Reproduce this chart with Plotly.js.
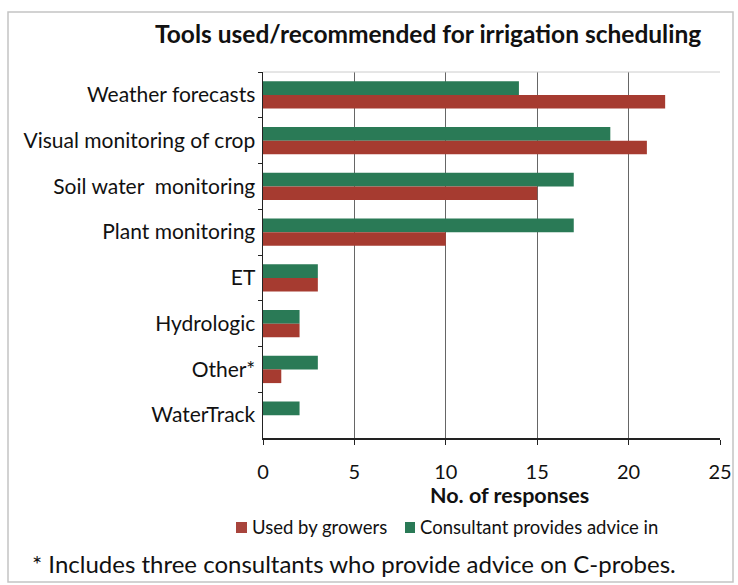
<!DOCTYPE html>
<html><head><meta charset="utf-8">
<script src="https://cdn.plot.ly/plotly-3.0.1.min.js"></script>
<style>body{margin:0;background:#fff}#c{width:738px;height:585px}</style>
</head><body><div id="c"></div>
<script>
const categories = ["Weather forecasts","Visual monitoring of crop","Soil water  monitoring","Plant monitoring","ET","Hydrologic","Other*","WaterTrack"];
const usedByGrowers = [22,21,15,10,3,2,1,0];
const consultantAdvice = [14,19,17,17,3,2,3,2];
const xTicks = [0,5,10,15,20,25];
const seriesNames = ["Used by growers","Consultant provides advice in"];
const seriesColors = ["#a63b30","#2a7a56"];

const F = "Lato, 'Open Sans', sans-serif";
const L = 263, R = 18, T = 72, B = 147, W = 738, H = 585;
const pw = W - L - R, ph = H - T - B;
const px = x => (x - L) / pw;          // pixel x -> paper
const py = y => (H - B - y) / ph;      // pixel y -> paper

const traces = [
  {type:'bar', orientation:'h', name:seriesNames[1], y:categories, x:consultantAdvice,
   marker:{color:seriesColors[1]}},
  {type:'bar', orientation:'h', name:seriesNames[0], y:categories, x:usedByGrowers,
   marker:{color:seriesColors[0]}}
];

// custom legend (squares right next to text, like the reference)
const legItems = [
  {sq:[236,247], tx:250, name:seriesNames[0], color:'#a8443c'},
  {sq:[405,415], tx:418, name:seriesNames[1], color:'#2a7a56'}
];
const legY = 527;
const shapes = [
  {type:'line', xref:'paper', yref:'paper', x0:0, x1:1, y0:1, y1:1, line:{color:'#ccc', width:1}},
  {type:'rect', xref:'paper', yref:'paper', x0:px(8), x1:px(733), y0:py(582), y1:py(12), line:{color:'#c4c4c4', width:1.5}, layer:'below'}
];
const annotations = [
  {text:'<b>Tools used/recommended for irrigation scheduling</b>', xref:'paper', yref:'paper',
   x:px(428), y:py(33), xanchor:'center', yanchor:'middle', showarrow:false, font:{family:F, size:24.5, color:'#111'}},
  {text:'<b>No. of responses</b>', xref:'paper', yref:'paper', x:px(509), y:py(495), xanchor:'center', yanchor:'middle',
   showarrow:false, font:{family:F, size:21.5, color:'#111'}},
  {text:'* Includes three consultants who provide advice on C-probes.', xref:'paper', yref:'paper', x:px(30), y:py(563),
   xanchor:'left', yanchor:'middle', showarrow:false, font:{family:F, size:24, color:'#111'}}
];
legItems.forEach(it => {
  shapes.push({type:'rect', xref:'paper', yref:'paper', x0:px(it.sq[0]), x1:px(it.sq[1]), y0:py(legY+6), y1:py(legY-5),
    fillcolor:it.color, line:{width:0}});
  annotations.push({text:it.name, xref:'paper', yref:'paper', x:px(it.tx), y:py(legY), xanchor:'left', yanchor:'middle',
    showarrow:false, font:{family:F, size:18.5, color:'#111'}});
});

const layout = {
  width:W, height:H, paper_bgcolor:'#fff', plot_bgcolor:'#fff',
  margin:{l:L, r:R, t:T, b:B},
  barmode:'group', bargap:0.4, bargroupgap:0,
  showlegend:false,
  xaxis:{range:[0,25], tickvals:xTicks, ticks:'outside', ticklen:5, tickcolor:'#222',
    showline:true, linecolor:'#222', linewidth:1.5, showgrid:true, gridcolor:'#666', gridwidth:1,
    zeroline:false, ticklabelstandoff:10, tickfont:{family:F, size:20, color:'#111'}, fixedrange:true},
  yaxis:{autorange:'reversed', type:'category', ticks:'outside', tickson:'boundaries', ticklen:4, tickcolor:'#222',
    showline:true, linecolor:'#222', linewidth:1.5, showgrid:false,
    tickfont:{family:F, size:21, color:'#111'}, ticklabelstandoff:2, fixedrange:true},
  shapes:shapes,
  annotations:annotations
};
Plotly.newPlot('c', traces, layout, {displayModeBar:false, staticPlot:true});
</script></body></html>
